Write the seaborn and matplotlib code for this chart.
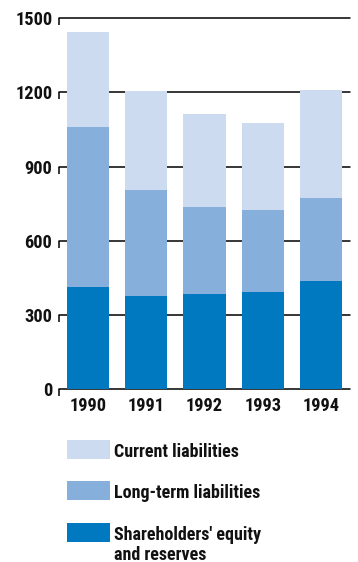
import numpy as np
import matplotlib
matplotlib.use("Agg")
import matplotlib.pyplot as plt
from matplotlib.patches import Rectangle
from matplotlib import font_manager
from matplotlib.font_manager import FontProperties
import seaborn as sns

years = ["1990", "1991", "1992", "1993", "1994"]
equity = [412, 376, 384, 392, 438]
long_term = [647, 429, 353, 332, 334]
current = [385, 400, 375, 352, 437]
y_ticks = [0, 300, 600, 900, 1200, 1500]
series_labels = ["Current liabilities", "Long-term liabilities",
                 "Shareholders' equity\nand reserves"]

c_current = "#CCDBF0"
c_long = "#87AFDB"
c_equity = "#0079C1"

sns.set_theme(style="white")

# condensed bold face for all labels
bold_path = next((f.fname for f in font_manager.fontManager.ttflist
                  if f.fname.endswith("RobotoCondensed-Bold.ttf")), None)


def label_font(size):
    if bold_path:
        return FontProperties(fname=bold_path, size=size)
    return FontProperties(family="DejaVu Sans", weight="bold",
                          stretch="condensed", size=size)


W, H = 358, 562
fig = plt.figure(figsize=(W / 100, H / 100), dpi=100)
ax = fig.add_axes([59.3 / W, 1 - 389 / H, (350 - 59.3) / W, (389 - 18.3) / H])

eq = np.array(equity)
lt_top = eq + np.array(long_term)
total = lt_top + np.array(current)

# stacked bars: draw cumulative totals from back to front
for vals, col in [(total, c_current), (lt_top, c_long), (eq, c_equity)]:
    sns.barplot(x=years, y=vals, color=col, saturation=1, width=0.724,
                linewidth=0, ax=ax, zorder=2)

ax.set_xlim(-0.495, 4.5)
ax.set_ylim(0, 1500)
for s in ax.spines.values():
    s.set_visible(False)

# horizontal rules with a short downward hook at the left end
hook = 7 / (371 / 1500)
ytr = ax.get_yaxis_transform()
for v in y_ticks:
    ax.axhline(v, color="black", lw=1.1, zorder=1, clip_on=False)
    ax.plot([0, 0], [v, v - hook], color="black", lw=1.1, transform=ytr,
            clip_on=False, zorder=3, solid_capstyle="butt")

ax.set_yticks(y_ticks, labels=[str(v) for v in y_ticks],
              fontproperties=label_font(13.2), color="#111111")
ax.set_xticks(range(len(years)), labels=years,
              fontproperties=label_font(13.2), color="#111111")
ax.tick_params(axis="y", length=0, pad=5)
ax.tick_params(axis="x", length=0, pad=6)
ax.set_xlabel("")
ax.set_ylabel("")

# legend block below the chart
rows = [(440, c_current, series_labels[0]),
        (481, c_long, series_labels[1]),
        (523, c_equity, series_labels[2])]
for top, col, txt in rows:
    fig.patches.append(Rectangle((67 / W, 1 - (top + 19) / H), 43 / W, 19 / H,
                                 transform=fig.transFigure, facecolor=col,
                                 edgecolor="none"))
    first, _, rest = txt.partition("\n")
    fig.text(114 / W, 1 - (top + 17) / H, first, ha="left", va="baseline",
             fontproperties=label_font(13), color="#111111")
    if rest:
        fig.text(114 / W, 1 - (top + 36.5) / H, rest, ha="left", va="baseline",
                 fontproperties=label_font(13), color="#111111")

fig.savefig("out.png", dpi=100)
